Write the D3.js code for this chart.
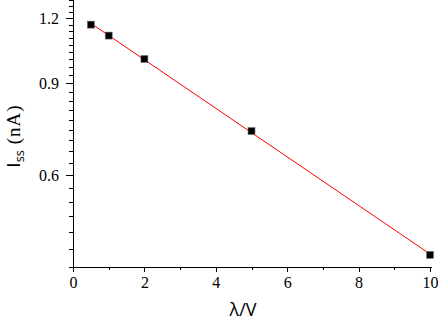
<!DOCTYPE html>
<html>
<head>
<meta charset="utf-8">
<script src="https://cdn.jsdelivr.net/npm/d3@7"></script>
<style>
  html, body { margin: 0; padding: 0; background: #fff; }
  .axis path, .axis line { stroke: #000; stroke-width: 1; shape-rendering: crispEdges; }
</style>
</head>
<body>
<svg id="chart" width="439" height="324"></svg>
<script>
// measured data: bias lambda (V) vs steady-state current (nA)
const lambdaV = [0.5, 1, 2, 5, 10];
const issNA = [1.166, 1.111, 1.002, 0.729, 0.422];

const xMajorTicks = [0, 2, 4, 6, 8, 10];
const xMinorTicks = [1, 3, 5, 7, 9];
const yMajorTicks = [0.6, 0.9, 1.2];
const yMinorSteps = d3.range(12, 40).map(k => k / 30); // 0.4 .. 1.3 by 1/30

const serif = 'Liberation Serif';
const sans = 'Open Sans';

const svg = d3.select('#chart');
const margin = {top: 0, right: 9, bottom: 57, left: 73};
const width = 439 - margin.left - margin.right;
const height = 324 - margin.top - margin.bottom;

const g = svg.append('g')
    .attr('transform', 'translate(' + margin.left + ',' + margin.top + ')');

const x = d3.scaleLinear().domain([0, 10]).range([0, 357]);
const y = d3.scaleLog().domain([0.4, 1.3]).range([height, 0]);

// minor ticks first, then the major axes on top
g.append('g')
    .attr('class', 'axis')
    .attr('transform', 'translate(0,' + height + ')')
    .call(d3.axisBottom(x).tickValues(xMinorTicks).tickSize(3).tickFormat(''))
    .select('.domain').remove();

const xAxisG = g.append('g')
    .attr('class', 'axis')
    .attr('transform', 'translate(0,' + height + ')')
    .call(d3.axisBottom(x).tickValues(xMajorTicks).tickSize(5).tickSizeOuter(0).tickPadding(5).tickFormat(d3.format('d')));
xAxisG.select('.domain').attr('d', 'M0,0H' + (x(10) + 2));

g.append('g')
    .attr('class', 'axis')
    .call(d3.axisLeft(y).tickValues(yMinorSteps.filter(v => !yMajorTicks.some(m => Math.abs(m - v) < 1e-6))).tickSize(4).tickFormat(''))
    .select('.domain').remove();

const yAxisG = g.append('g')
    .attr('class', 'axis')
    .call(d3.axisLeft(y).tickValues(yMajorTicks).tickSize(7).tickSizeOuter(0).tickPadding(7).tickFormat(d3.format('.1f')));
yAxisG.select('.domain').attr('d', 'M0,0V' + (height + 3));

[xAxisG, yAxisG].forEach(a => a
    .attr('font-family', serif)
    .attr('font-size', 16)
    .selectAll('text').attr('fill', '#000'));

// exponential fit: least squares on ln(I) vs lambda
const lnI = issNA.map(v => Math.log(v));
const mx = d3.mean(lambdaV), my = d3.mean(lnI);
const slope = d3.sum(lambdaV, (v, i) => (v - mx) * (lnI[i] - my)) / d3.sum(lambdaV, v => (v - mx) * (v - mx));
const icpt = my - slope * mx;
const fitX = d3.extent(lambdaV);

const line = d3.line()
    .x(d => x(d))
    .y(d => y(Math.exp(icpt + slope * d)));

g.append('path')
    .datum(fitX)
    .attr('d', line)
    .attr('fill', 'none')
    .attr('stroke', '#ff0000')
    .attr('stroke-width', 1);

g.selectAll('.pt')
    .data(lambdaV)
    .enter().append('rect')
    .attr('class', 'pt')
    .attr('x', d => x(d) - 3.5)
    .attr('y', (d, i) => y(issNA[i]) - 3.5)
    .attr('width', 7)
    .attr('height', 7)
    .attr('fill', '#000')
    .attr('stroke', '#777')
    .attr('stroke-width', 0.6);

// axis titles
svg.append('text')
    .attr('x', 243)
    .attr('y', 316)
    .attr('text-anchor', 'middle')
    .attr('font-family', sans)
    .attr('font-size', 18)
    .text('λ/V');

const yt = svg.append('text')
    .attr('transform', 'translate(20,136) rotate(-90)')
    .attr('text-anchor', 'middle')
    .attr('font-size', 19);
yt.append('tspan').attr('font-family', sans).text('I');
yt.append('tspan').attr('font-family', sans).attr('font-size', 13).attr('dy', 4).text('ss');
yt.append('tspan').attr('font-family', serif).attr('letter-spacing', 1).attr('dy', -4).text('\u00a0(nA)');
</script>
</body>
</html>
